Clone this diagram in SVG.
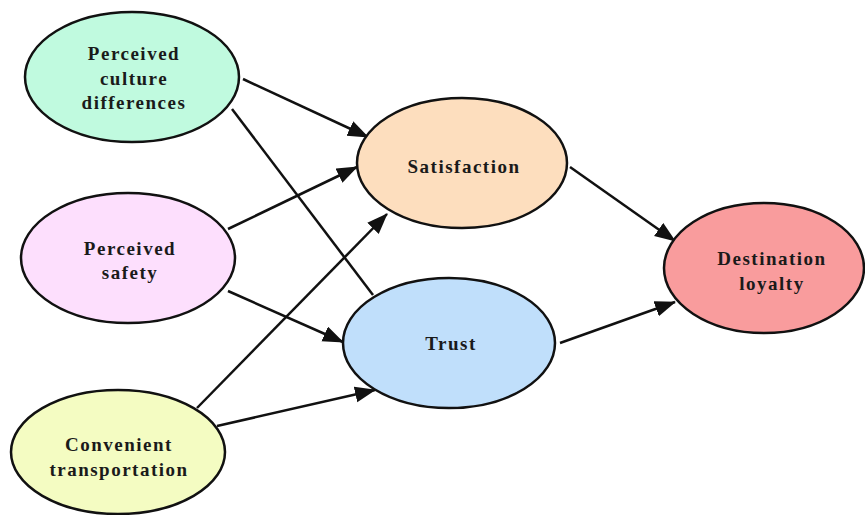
<svg xmlns="http://www.w3.org/2000/svg" width="865" height="515" viewBox="0 0 865 515">
<defs>
<style>
.node ellipse{stroke:#111;stroke-width:2.5}
.node text{font-family:"Liberation Serif","Times New Roman",serif;font-weight:bold;font-size:19px;letter-spacing:1.5px;fill:#1a1a1a;text-anchor:middle}
.edge{stroke:#111;stroke-width:2.5;fill:none}
.arr{marker-end:url(#ah)}
</style>
<marker id="ah" markerUnits="userSpaceOnUse" markerWidth="24" markerHeight="18" refX="20" refY="8" orient="auto">
<path d="M0,0 L21,8 L0,16 Z" fill="#111"/>
</marker>
</defs>
<rect width="865" height="515" fill="#fff"/>
<g id="connectors">
<line class="edge arr" x1="243" y1="79" x2="368" y2="137"/>
<line class="edge" x1="232" y1="109" x2="373" y2="295"/>
<line class="edge arr" x1="228" y1="229" x2="357" y2="167"/>
<line class="edge arr" x1="228" y1="291" x2="343" y2="342"/>
<line class="edge arr" x1="197" y1="408" x2="387" y2="214"/>
<line class="edge arr" x1="217" y1="426" x2="375" y2="390"/>
<line class="edge arr" x1="570" y1="167" x2="675" y2="241"/>
<line class="edge arr" x1="560" y1="343" x2="675" y2="302"/>
</g>
<g id="culture" class="node">
<ellipse cx="132" cy="77" rx="107" ry="65" fill="#C0FADF"/>
<text x="134" y="60">Perceived</text>
<text x="134" y="85">culture</text>
<text x="134" y="109">differences</text>
</g>
<g id="safety" class="node">
<ellipse cx="128" cy="258" rx="107" ry="65" fill="#FDDFFD"/>
<text x="130" y="255">Perceived</text>
<text x="130" y="279">safety</text>
</g>
<g id="transport" class="node">
<ellipse cx="118" cy="452" rx="107" ry="62" fill="#F4FCC2"/>
<text x="119" y="451">Convenient</text>
<text x="119" y="476">transportation</text>
</g>
<g id="satisfaction" class="node">
<ellipse cx="462" cy="163" rx="105" ry="65" fill="#FDDEBE"/>
<text x="464" y="173">Satisfaction</text>
</g>
<g id="trust" class="node">
<ellipse cx="449" cy="343" rx="106" ry="65" fill="#C0DFFB"/>
<text x="451" y="350">Trust</text>
</g>
<g id="loyalty" class="node">
<ellipse cx="764" cy="268" rx="100" ry="65" fill="#F99C9D"/>
<text x="772" y="265">Destination</text>
<text x="772" y="290">loyalty</text>
</g>
</svg>
